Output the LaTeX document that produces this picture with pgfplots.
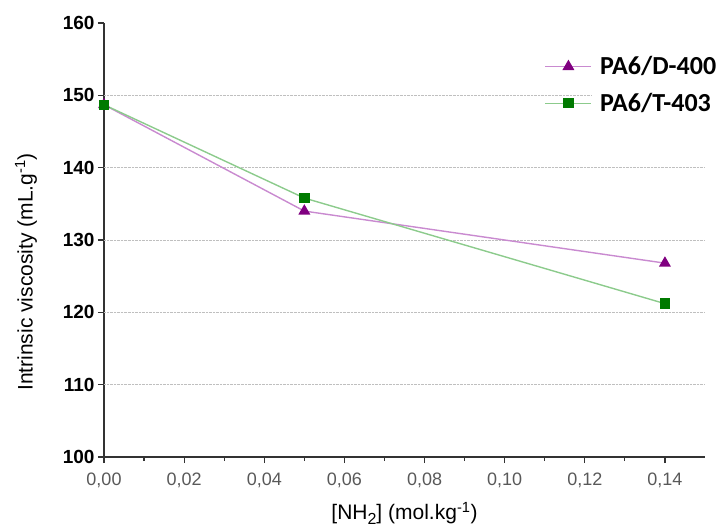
\documentclass[border=0pt]{standalone}
\usepackage{pgfplots}
\pgfplotsset{compat=1.18}
\usepackage{fontspec}
\setmainfont{Liberation Sans}
\newfontfamily\legfont{Carlito}
\definecolor{purpmark}{HTML}{800080}
\definecolor{purpline}{HTML}{C98AD0}
\definecolor{greenmark}{HTML}{007A00}
\definecolor{greenline}{HTML}{8CCB8C}
\definecolor{axgray}{HTML}{333333}
\begin{document}
\begin{tikzpicture}
\begin{axis}[
  scale only axis,
  width=601bp, height=434bp,
  xmin=0, xmax=0.15, ymin=100, ymax=160,
  axis x line=bottom, axis y line=left,
  axis line style={-, line width=1.6bp, color=axgray},
  xtick={0,0.02,...,0.14},
  ytick={100,160},
  extra y ticks={110,120,130,140,150},
  extra y tick style={ymajorgrids=true, grid style={densely dotted, gray!50, line width=0.8bp}},
  minor x tick num=1, minor y tick num=1,
  tick align=outside,
  major tick length=6bp, minor tick length=4bp,
  every tick/.style={line width=1.2bp, color=axgray},
  /pgf/number format/assume math mode=true,
  x tick label style={/pgf/number format/.cd, fixed, fixed zerofill, precision=2, use comma, /tikz/.cd,
     font=\fontsize{18bp}{20bp}\selectfont, color=black!65, yshift=-6bp},
  y tick label style={font=\fontsize{19bp}{21bp}\selectfont\bfseries, /pgf/number format/.cd, fixed, /tikz/.cd},
  scaled x ticks=false,
  xlabel={[NH\raisebox{-0.45ex}{\fontsize{16bp}{16bp}\selectfont 2}] (mol.kg\textsuperscript{-1})},
  ylabel={Intrinsic viscosity (mL.g\textsuperscript{-1})},
  xlabel style={font=\fontsize{21bp}{23bp}\selectfont, yshift=-8bp},
  ylabel style={font=\fontsize{21bp}{23bp}\selectfont, xshift=-32bp, yshift=7bp},
  legend style={draw=none, fill=none, at={(rel axis cs:0.728,0.932)}, anchor=north west,
    font=\legfont\bfseries\fontsize{26bp}{28bp}\selectfont, row sep=13bp,
    nodes={inner xsep=8bp, fill=white}},
  legend cell align=left,
  legend image code/.code={%
    \draw[mark repeat=2, mark phase=2, #1] plot coordinates {(0bp,0bp) (23bp,0bp) (46bp,0bp)};},
  clip=false,
]
\addplot[color=purpline, line width=1.4bp, mark=triangle*, mark size=5.5bp,
  mark options={fill=purpmark, draw=purpmark}]
  coordinates {(0,148.7) (0.05,134.0) (0.14,126.8)};
\addlegendentry{PA6/D-400}
\addplot[color=greenline, line width=1.4bp, mark=square*, mark size=4.5bp,
  mark options={fill=greenmark, draw=greenmark}]
  coordinates {(0,148.7) (0.05,135.8) (0.14,121.2)};
\addlegendentry{PA6/T-403}
\coordinate (O) at (rel axis cs:0,0);
\end{axis}
\pgfresetboundingbox
\path (O) ++(-104bp,-72bp) rectangle ++(721bp,529bp);
\end{tikzpicture}
\end{document}
